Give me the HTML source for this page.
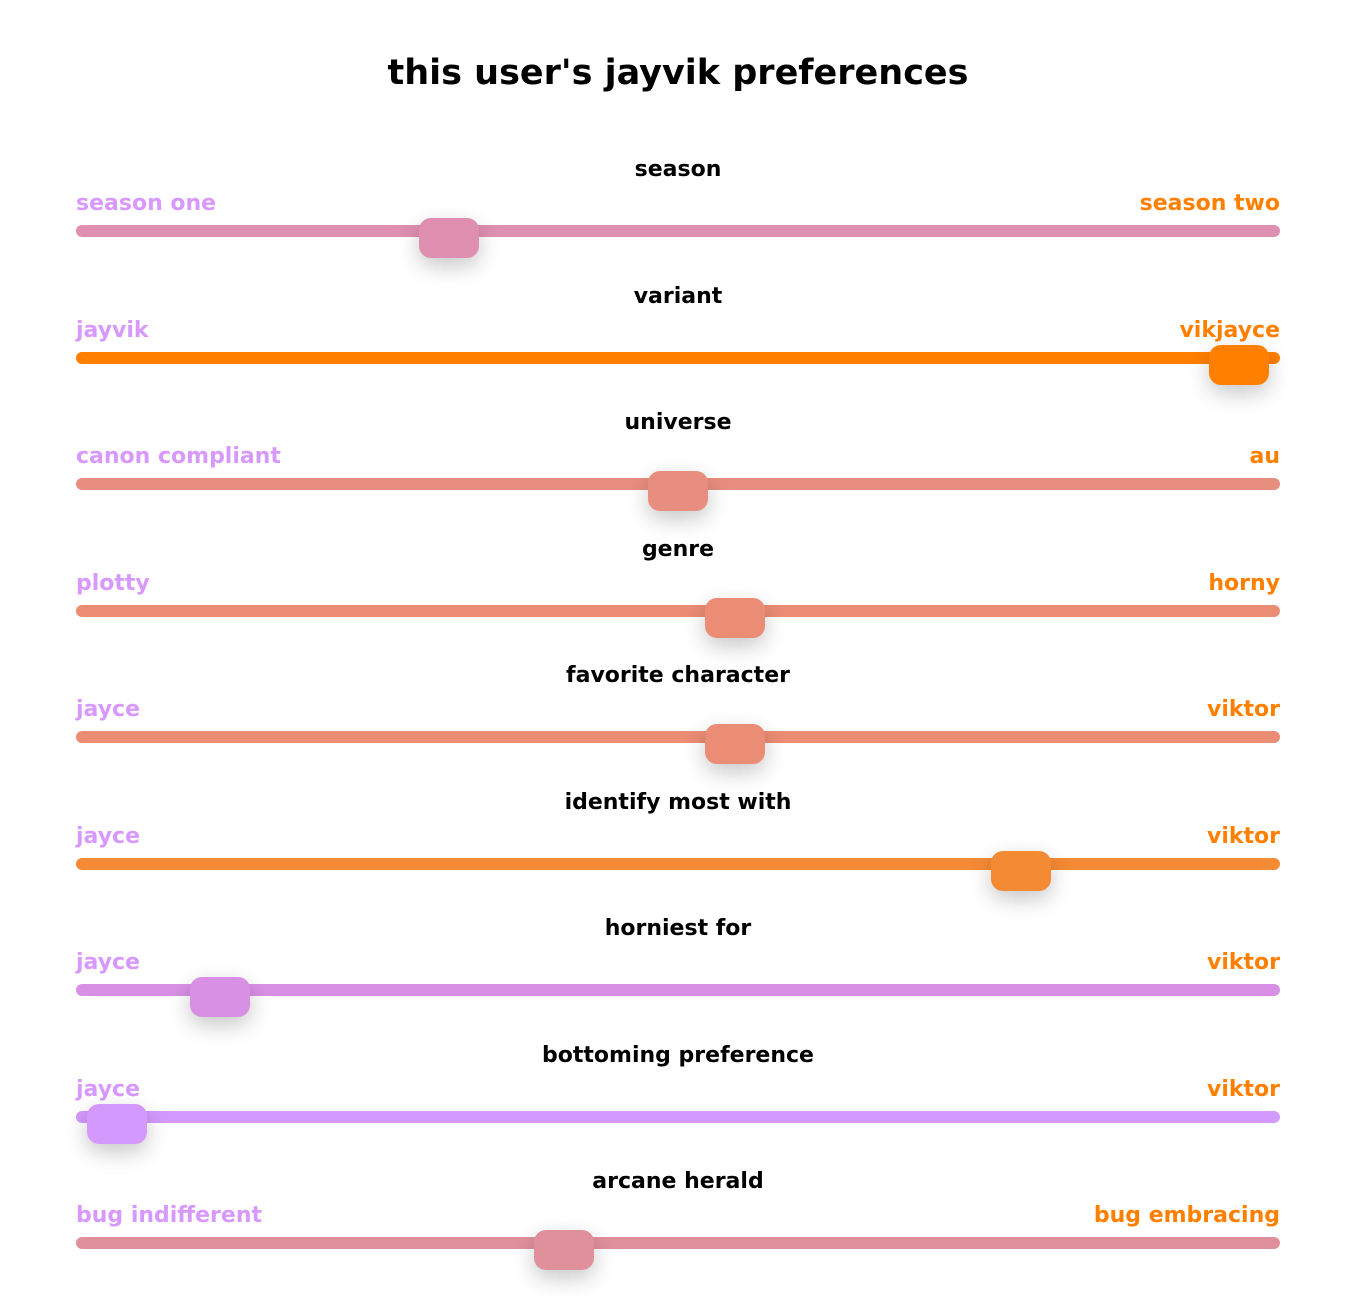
<!DOCTYPE html>
<html><head><meta charset="utf-8"><style>
body{margin:0;width:1356px;height:1309px;background:#fff;font-family:"DejaVu Sans","Liberation Sans",sans-serif;font-weight:bold;position:relative;overflow:hidden}
h1{position:absolute;top:52px;left:0;width:1356px;text-align:center;margin:0;font-size:35px;line-height:42px;color:#000}
.t{position:absolute;left:0;width:1356px;text-align:center;font-size:22px;line-height:26px;color:#000}
.l,.r{position:absolute;font-size:22px;line-height:26px}
.l{left:76px;color:#d899fc}
.r{right:76px;color:#ff8000}
.tr{position:absolute;left:76px;width:1204px;height:12px;border-radius:6px}
.th{position:absolute;width:60px;height:40px;border-radius:12px;box-shadow:0 8px 22px rgba(0,0,0,0.22)}
</style></head><body>
<h1>this user's jayvik preferences</h1>
<div id="c"></div>
<script>
var rows=[["season","season one","season two","#df8fb0",419],
["variant","jayvik","vikjayce","#ff8000",1209],
["universe","canon compliant","au","#e88e7e",648],
["genre","plotty","horny","#eb8c74",705],
["favorite character","jayce","viktor","#eb8c74",705],
["identify most with","jayce","viktor","#f58a35",991],
["horniest for","jayce","viktor","#d890e4",190],
["bottoming preference","jayce","viktor","#d399fc",87],
["arcane herald","bug indifferent","bug embracing","#e0909b",534]];
var h="";
rows.forEach(function(r,i){var y=Math.round(231+i*126.5);
h+='<div class="t" style="top:'+(y-74)+'px">'+r[0]+'</div>';
h+='<div class="l" style="top:'+(y-40)+'px">'+r[1]+'</div>';
h+='<div class="r" style="top:'+(y-40)+'px">'+r[2]+'</div>';
h+='<div class="tr" style="top:'+(y-6)+'px;background:'+r[3]+'"></div>';
h+='<div class="th" style="top:'+(y-13)+'px;left:'+r[4]+'px;background:'+r[3]+'"></div>';});
document.getElementById("c").innerHTML=h;
</script>
</body></html>
